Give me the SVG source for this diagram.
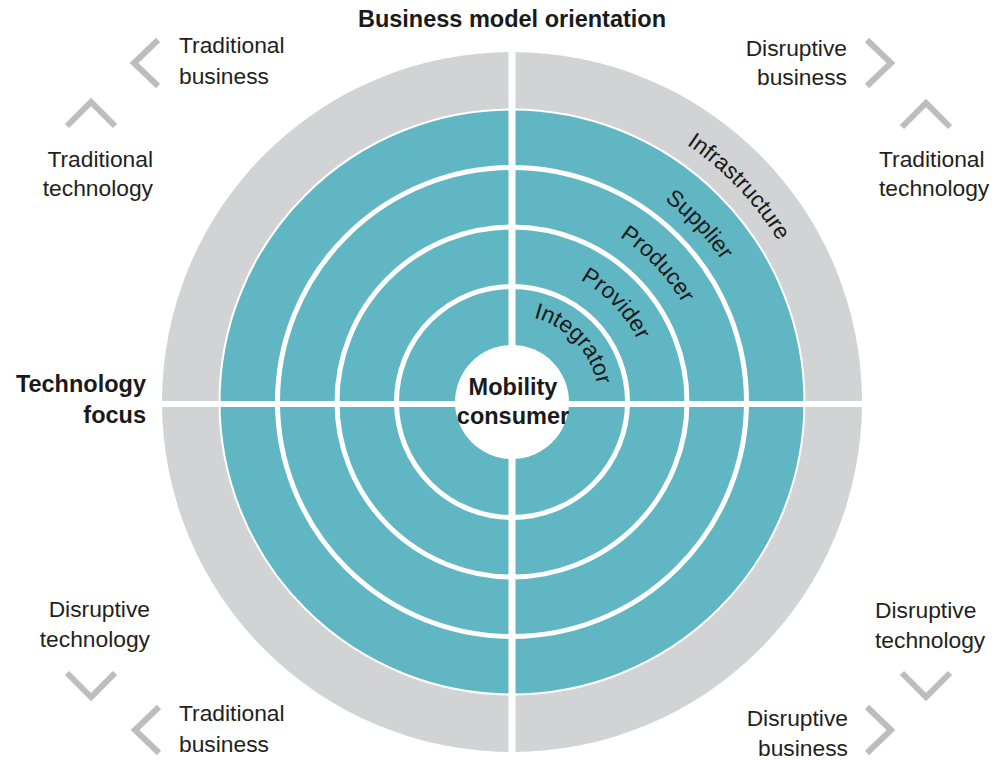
<svg xmlns="http://www.w3.org/2000/svg" width="1008" height="760" viewBox="0 0 1008 760">
  <style>
    .lbl { font-family: "Liberation Sans", Arial, sans-serif; font-size: 22.8px; fill: #231f20; }
    .bold { font-family: "Liberation Sans", Arial, sans-serif; font-size: 23.5px; font-weight: bold; fill: #1a1a1a; }
    .ring { font-family: "Liberation Sans", Arial, sans-serif; font-size: 22.8px; fill: #1a1a1a; }
    .chev { fill: none; stroke: #bdbdbd; stroke-width: 6; stroke-linejoin: miter; }
    .sep { fill: none; stroke: #ffffff; stroke-width: 5; }
  </style>
  <defs>
    <path id="arcInfra" d="M439.41,99.58 A311,311 0 0 1 810.19,490.32"/>
    <path id="arcSupp" d="M452.95,155.98 A253,253 0 0 1 754.58,473.85"/>
    <path id="arcProd" d="M466.02,210.44 A197,197 0 0 1 700.88,457.95"/>
    <path id="arcProv" d="M479.32,265.86 A140,140 0 0 1 646.23,441.76"/>
    <path id="arcInteg" d="M491.69,317.40 A87,87 0 0 1 595.42,426.71"/>
  </defs>
  <rect width="1008" height="760" fill="#ffffff"/>

  <g id="wheel">
    <circle id="infrastructure-band" cx="512" cy="402" r="350" fill="#d1d3d4"/>
    <circle id="supplier-band" cx="512" cy="402" r="292.5" fill="#61b6c3" stroke="#ffffff" stroke-width="2"/>
    <circle id="producer-ring" class="sep" cx="512" cy="402" r="234.5"/>
    <circle id="provider-ring" class="sep" cx="512" cy="402" r="175"/>
    <circle id="integrator-ring" class="sep" cx="512" cy="402" r="115.5"/>
    <rect id="vertical-gap" x="508.5" y="50" width="7" height="704" fill="#ffffff"/>
    <rect id="horizontal-gap" x="160" y="401" width="704" height="6" fill="#ffffff"/>
  </g>

  <g id="center-node">
    <circle cx="512" cy="402" r="57" fill="#ffffff"/>
    <text class="bold" x="513" y="395" text-anchor="middle">Mobility</text>
    <text class="bold" x="513" y="424" text-anchor="middle">consumer</text>
  </g>

  <g id="ring-labels">
    <text class="ring"><textPath href="#arcInfra" startOffset="50%" text-anchor="middle">Infrastructure</textPath></text>
    <text class="ring"><textPath href="#arcSupp" startOffset="50%" text-anchor="middle">Supplier</textPath></text>
    <text class="ring"><textPath href="#arcProd" startOffset="50%" text-anchor="middle">Producer</textPath></text>
    <text class="ring"><textPath href="#arcProv" startOffset="50%" text-anchor="middle">Provider</textPath></text>
    <text class="ring"><textPath href="#arcInteg" startOffset="50%" text-anchor="middle">Integrator</textPath></text>
  </g>

  <g id="axis-titles">
    <text class="bold" x="512" y="27" text-anchor="middle">Business model orientation</text>
    <text class="bold" x="146" y="392" text-anchor="end">Technology</text>
    <text class="bold" x="146" y="423" text-anchor="end">focus</text>
  </g>

  <g id="connectors">
    <polyline class="chev" points="158,40 134,63 158,86"/>
    <polyline class="chev" points="67,126 91,102 115,126"/>
    <polyline class="chev" points="67,673 91,697 115,673"/>
    <polyline class="chev" points="159,707 135,730 159,753"/>
    <polyline class="chev" points="867,40 891,63 867,86"/>
    <polyline class="chev" points="902,127 926,103 950,127"/>
    <polyline class="chev" points="902,673 926,697 950,673"/>
    <polyline class="chev" points="867,707 891,730 867,753"/>
  </g>

  <g id="label-tl-business">
    <text class="lbl" x="179" y="53">Traditional</text>
    <text class="lbl" x="179" y="84">business</text>
  </g>
  <g id="label-tl-technology">
    <text class="lbl" x="153" y="167" text-anchor="end">Traditional</text>
    <text class="lbl" x="153" y="196" text-anchor="end">technology</text>
  </g>
  <g id="label-bl-technology">
    <text class="lbl" x="150" y="617" text-anchor="end">Disruptive</text>
    <text class="lbl" x="150" y="647" text-anchor="end">technology</text>
  </g>
  <g id="label-bl-business">
    <text class="lbl" x="179" y="721">Traditional</text>
    <text class="lbl" x="179" y="752">business</text>
  </g>
  <g id="label-tr-business">
    <text class="lbl" x="847" y="56" text-anchor="end">Disruptive</text>
    <text class="lbl" x="847" y="85" text-anchor="end">business</text>
  </g>
  <g id="label-tr-technology">
    <text class="lbl" x="879" y="167">Traditional</text>
    <text class="lbl" x="879" y="196">technology</text>
  </g>
  <g id="label-br-technology">
    <text class="lbl" x="875" y="618">Disruptive</text>
    <text class="lbl" x="875" y="648">technology</text>
  </g>
  <g id="label-br-business">
    <text class="lbl" x="848" y="726" text-anchor="end">Disruptive</text>
    <text class="lbl" x="848" y="756" text-anchor="end">business</text>
  </g>
</svg>
